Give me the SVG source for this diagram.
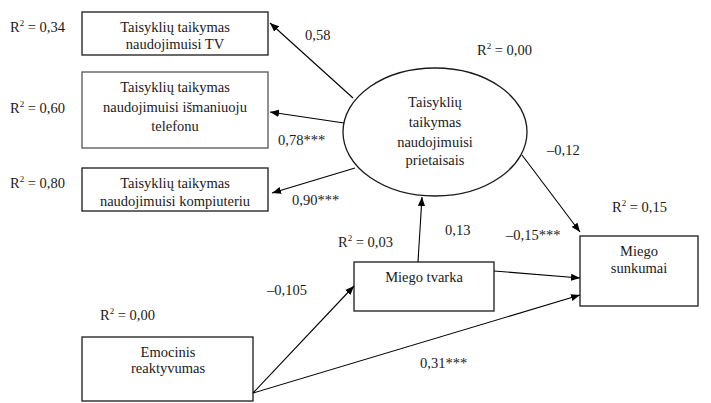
<svg xmlns="http://www.w3.org/2000/svg" width="711" height="403" viewBox="0 0 711 403">
<defs>
<style>
text{font-size:14.5px;fill:#1a1a1a}
.c{text-anchor:middle}
.box{fill:#fff;stroke:#1a1a1a;stroke-width:1.3}
.ln{stroke:#000;stroke-width:1.1;fill:none;marker-end:url(#ah)}
.sup{font-size:9px}
</style>
<marker id="ah" viewBox="0 0 10 10" refX="10" refY="5" markerWidth="9" markerHeight="9" markerUnits="userSpaceOnUse" orient="auto">
<path d="M0,1 L10,5 L0,9 z" fill="#000"/>
</marker>
</defs>
<rect width="711" height="403" fill="#fff"/>
<g font-family="Liberation Serif, Times New Roman, serif">
<g id="tv">
<rect class="box" x="82" y="12" width="186" height="43"/>
<text class="c" x="175" y="32">Taisyklių taikymas</text>
<text class="c" x="175" y="49">naudojimuisi TV</text>
</g>
<g id="phone">
<rect class="box" x="82" y="72" width="186" height="76" style="stroke:#555"/>
<text class="c" x="175" y="92">Taisyklių taikymas</text>
<text class="c" x="175" y="112">naudojimuisi išmaniuoju</text>
<text class="c" x="175" y="131">telefonu</text>
</g>
<g id="computer">
<rect class="box" x="82" y="168" width="186" height="43"/>
<text class="c" x="175" y="188">Taisyklių taikymas</text>
<text class="c" x="175" y="206">naudojimuisi kompiuteriu</text>
</g>
<g id="devices">
<ellipse class="box" cx="435" cy="132" rx="92" ry="64"/>
<text class="c" x="435" y="107">Taisyklių</text>
<text class="c" x="435" y="127">taikymas</text>
<text class="c" x="435" y="147">naudojimuisi</text>
<text class="c" x="435" y="165">prietaisais</text>
</g>
<g id="sunkumai">
<rect class="box" x="580" y="236" width="118" height="70"/>
<text class="c" x="639" y="256">Miego</text>
<text class="c" x="639" y="273">sunkumai</text>
</g>
<g id="tvarka">
<rect class="box" x="354" y="262" width="140" height="49"/>
<text class="c" x="424" y="282">Miego tvarka</text>
</g>
<g id="emocinis">
<rect class="box" x="82" y="337" width="171" height="64"/>
<text class="c" x="168" y="357">Emocinis</text>
<text class="c" x="168" y="373">reaktyvumas</text>
</g>

<g id="connectors">
<line class="ln" x1="353" y1="98" x2="270" y2="23"/>
<line class="ln" x1="344" y1="123" x2="270" y2="112"/>
<line class="ln" x1="355" y1="168" x2="272" y2="193"/>
<line class="ln" x1="522" y1="155" x2="580" y2="232"/>
<line class="ln" x1="418" y1="262" x2="422" y2="197"/>
<line class="ln" x1="494" y1="271" x2="580" y2="278"/>
<line class="ln" x1="253" y1="393" x2="354" y2="286"/>
<line class="ln" x1="253" y1="393" x2="580" y2="295"/>
</g>

<g id="labels">
<text x="10" y="32">R<tspan class="sup" dy="-6">2</tspan><tspan dy="6"> = 0,34</tspan></text>
<text x="10" y="113">R<tspan class="sup" dy="-6">2</tspan><tspan dy="6"> = 0,60</tspan></text>
<text x="10" y="188">R<tspan class="sup" dy="-6">2</tspan><tspan dy="6"> = 0,80</tspan></text>
<text x="477" y="55">R<tspan class="sup" dy="-6">2</tspan><tspan dy="6"> = 0,00</tspan></text>
<text x="612" y="212">R<tspan class="sup" dy="-6">2</tspan><tspan dy="6"> = 0,15</tspan></text>
<text x="338" y="247">R<tspan class="sup" dy="-6">2</tspan><tspan dy="6"> = 0,03</tspan></text>
<text x="100" y="320">R<tspan class="sup" dy="-6">2</tspan><tspan dy="6"> = 0,00</tspan></text>
<text x="305" y="40">0,58</text>
<text x="278" y="145">0,78***</text>
<text x="292" y="205">0,90***</text>
<text x="547" y="155">–0,12</text>
<text x="445" y="235">0,13</text>
<text x="506" y="240">–0,15***</text>
<text x="267" y="295">–0,105</text>
<text x="420" y="368">0,31***</text>
</g>
</g>
</svg>
